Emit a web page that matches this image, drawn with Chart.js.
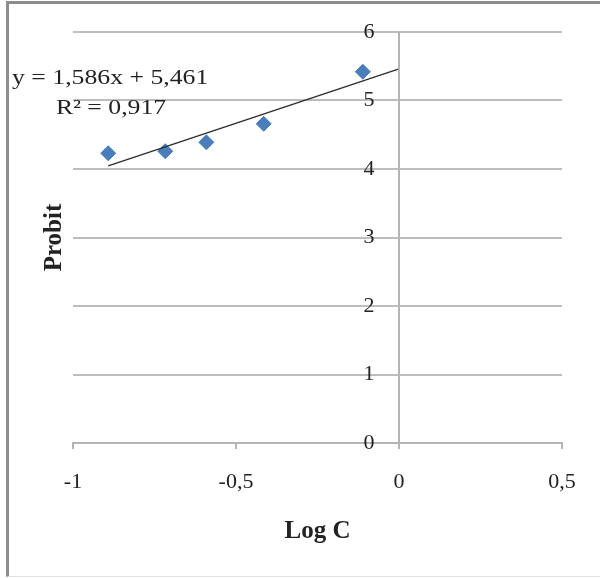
<!DOCTYPE html>
<html>
<head>
<meta charset="utf-8">
<script src="https://cdn.jsdelivr.net/npm/chart.js"></script>
<style>
  body { margin: 0; background: #fff; }
  #wrap { position: relative; width: 600px; height: 578px; }
  #frame { position: absolute; left: 6px; top: 1px; width: 600px; height: 572px;
           border-left: 3px solid #8c8c8c; border-top: 3px solid #8c8c8c; border-bottom: 1px solid #e4e4e4; }
  #myChart { position: absolute; left: 0; top: 0; }
  .eq { position: absolute; font-family: "Liberation Serif", serif; font-size: 22px;
        transform: scaleX(1.17); transform-origin: left center;
        color: #222; white-space: nowrap; line-height: 24px; }
</style>
</head>
<body>
<div id="wrap">
  <div id="frame"></div>
  <canvas id="myChart" width="600" height="578"></canvas>
  <div class="eq" style="left:12px; top:65px;">y = 1,586x + 5,461</div>
  <div class="eq" style="left:56px; top:95px;">R² = 0,917</div>
</div>
<script>
const ctx = document.getElementById('myChart');

// measured points (Log C, Probit)
const logC = [-0.892, -0.717, -0.591, -0.415, -0.111];
const probit = [4.23, 4.26, 4.39, 4.66, 5.42];

// trendline ends, y = 1,586x + 5,461
const trendX = [-0.892, 0];
const trendY = [4.046, 5.461];

const xTicks = [-1, -0.5, 0, 0.5];
const yTicks = [0, 1, 2, 3, 4, 5, 6];

const serif = "'Liberation Serif', 'Times New Roman', serif";
const comma = v => String(v).replace('.', ',');

pts = [];
logC.forEach((x, i) => pts.push({x: x, y: probit[i]}));
trend = [];
trendX.forEach((x, i) => trend.push({x: x, y: trendY[i]}));

// y axis sits at x = 0, labels drawn next to it
const yAxisAtZero = {
  id: 'yAxisAtZero',
  afterDraw(chart) {
    const c = chart.ctx, a = chart.chartArea;
    const x0 = chart.scales.x.getPixelForValue(0);
    c.save();
    c.strokeStyle = '#b4b4b4';
    c.lineWidth = 2;
    c.beginPath();
    c.moveTo(x0, a.top);
    c.lineTo(x0, a.bottom);
    c.stroke();
    c.fillStyle = '#222';
    c.font = '22px ' + serif;
    c.textAlign = 'center';
    c.textBaseline = 'middle';
    chart.scales.y.ticks.forEach(t => {
      c.fillText(comma(t.value), x0 - 30, chart.scales.y.getPixelForValue(t.value));
    });
    c.restore();
  }
};

new Chart(ctx, {
  type: 'scatter',
  data: {
    datasets: [{
      type: 'line',
      data: trend,
      borderColor: '#2b2b2b',
      borderWidth: 1.2,
      pointRadius: 0,
      fill: false,
      order: 0
    }, {
      data: pts,
      pointStyle: 'rectRot',
      pointRadius: 7.5,
      pointHoverRadius: 7.5,
      backgroundColor: '#4a7ebb',
      borderColor: '#4a7ebb',
      borderWidth: 1,
      order: 1
    }]
  },
  options: {
    responsive: false,
    animation: false,
    events: [],
    layout: { padding: { top: 32, right: 38, left: 0, bottom: 0 } },
    plugins: { legend: { display: false }, tooltip: { enabled: false } },
    scales: {
      x: {
        type: 'linear',
        min: -1, max: 0.5,
        afterBuildTicks: s => { s.ticks = xTicks.map(v => ({value: v})); },
        afterFit: s => { s.height = 135; },
        grid: { drawOnChartArea: false, drawTicks: true, tickLength: 6, color: '#b4b4b4', lineWidth: 2 },
        border: { display: true, color: '#b4b4b4', width: 2 },
        ticks: { padding: 20, color: '#222', font: { family: serif, size: 22 }, maxRotation: 0, callback: v => comma(v) },
        title: { display: true, text: 'Log C', color: '#222', font: { family: serif, size: 25, weight: 'bold' }, padding: { bottom: 31 } }
      },
      y: {
        min: 0, max: 6,
        afterBuildTicks: s => { s.ticks = yTicks.map(v => ({value: v})); },
        afterFit: s => { s.width = 73; },
        grid: { drawTicks: false, color: '#bdbdbd', lineWidth: 2 },
        border: { display: false },
        ticks: { display: false },
        title: { display: true, text: 'Probit', color: '#222', font: { family: serif, size: 25, weight: 'bold' }, padding: { top: 40 } }
      }
    }
  },
  plugins: [yAxisAtZero]
});
</script>
</body>
</html>
